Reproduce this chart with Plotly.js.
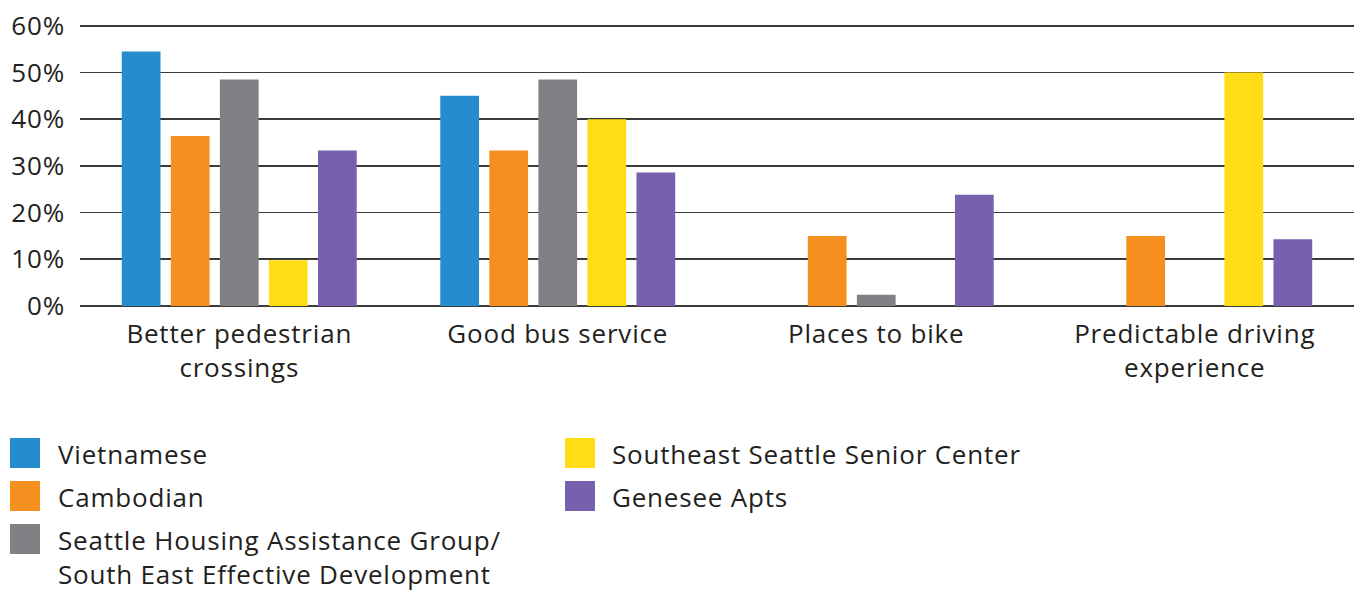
<!DOCTYPE html>
<html>
<head>
<meta charset="utf-8">
<script src="https://cdn.plot.ly/plotly-3.0.1.min.js"></script>
<style>
  html, body { margin: 0; padding: 0; background: #ffffff; }
  #chart { width: 1354px; height: 593px; }
  #chart svg text { letter-spacing: 0.8px; }
</style>
</head>
<body>
<div id="chart"></div>
<script>
// ---- data ----
const categories = ["Better pedestrian<br>crossings", "Good bus service", "Places to bike", "Predictable driving<br>experience"];
const seriesNames = ["Vietnamese", "Cambodian", "Seattle Housing Assistance Group/<br>South East Effective Development", "Southeast Seattle Senior Center", "Genesee Apts"];
const seriesColors = ["#258dcf", "#f48f20", "#808184", "#fedd17", "#7760ad"];
const vietnamese = [54.5, 45.0, 0, 0];
const cambodian = [36.4, 33.3, 15.0, 15.0];
const shag = [48.5, 48.5, 2.4, 0];
const seniorCenter = [9.8, 40.0, 0, 50.0];
const genesee = [33.3, 28.6, 23.8, 14.3];
const seriesValues = [vietnamese, cambodian, shag, seniorCenter, genesee];
const yTicks = [0, 10, 20, 30, 40, 50, 60];

// ---- layout constants ----
const W = 1354, H = 593;
const M = { l: 80, r: 0, t: 23, b: 287 };
const plotW = W - M.l - M.r, plotH = H - M.t - M.b;
const px = x => (x - M.l) / plotW;
const py = y => (H - M.b - y) / plotH;
const textColor = "#231f20";
const fontFamily = "'Open Sans', Roboto, sans-serif";
const fontSize = 26;

const traces = seriesNames.map((name, i) => ({
  type: "bar",
  name: name,
  x: categories,
  y: seriesValues[i],
  marker: { color: seriesColors[i], line: { width: 0 } },
  showlegend: false,
  hoverinfo: "x+y+name"
}));

// custom legend: column-major, 3 items then 2
const legendCols = [{ sq: 10, tx: 57 }, { sq: 565, tx: 611 }];
const legendRowsY = [453, 496, 539];
const shapes = [];
const annotations = [];
seriesNames.forEach((name, i) => {
  const col = i < 3 ? 0 : 1;
  const row = i < 3 ? i : i - 3;
  const cy = legendRowsY[row];
  const c = legendCols[col];
  shapes.push({
    type: "rect", xref: "paper", yref: "paper",
    x0: px(c.sq), x1: px(c.sq + 30),
    y0: py(cy - 15), y1: py(cy + 15),
    fillcolor: seriesColors[i], line: { width: 0 }, layer: "above"
  });
  annotations.push({
    xref: "paper", yref: "paper",
    x: px(c.tx), y: py(cy - 18),
    xanchor: "left", yanchor: "top",
    align: "left", showarrow: false,
    borderpad: 0,
    text: name,
    font: { family: fontFamily, size: fontSize, color: textColor }
  });
});

const layout = {
  width: W, height: H,
  margin: M,
  paper_bgcolor: "#ffffff",
  plot_bgcolor: "#ffffff",
  barmode: "group",
  bargap: 0.23,
  bargroupgap: 0.21,
  font: { family: fontFamily, color: textColor },
  xaxis: {
    type: "category",
    showgrid: false,
    showline: false,
    ticks: "",
    tickfont: { family: fontFamily, size: fontSize, color: textColor },
    ticklabelstandoff: 10
  },
  yaxis: {
    range: [0, 60.6],
    tickvals: yTicks,
    ticktext: yTicks.map(v => v + "%"),
    showgrid: true,
    gridcolor: "#3b3b3b",
    gridwidth: 1.6,
    zeroline: true,
    zerolinecolor: "#3b3b3b",
    zerolinewidth: 1.6,
    showline: false,
    ticks: "",
    tickfont: { family: fontFamily, size: fontSize, color: textColor },
    ticklabelstandoff: 14
  },
  shapes: shapes,
  annotations: annotations
};

Plotly.newPlot("chart", traces, layout, { displayModeBar: false, staticPlot: true });
</script>
</body>
</html>
